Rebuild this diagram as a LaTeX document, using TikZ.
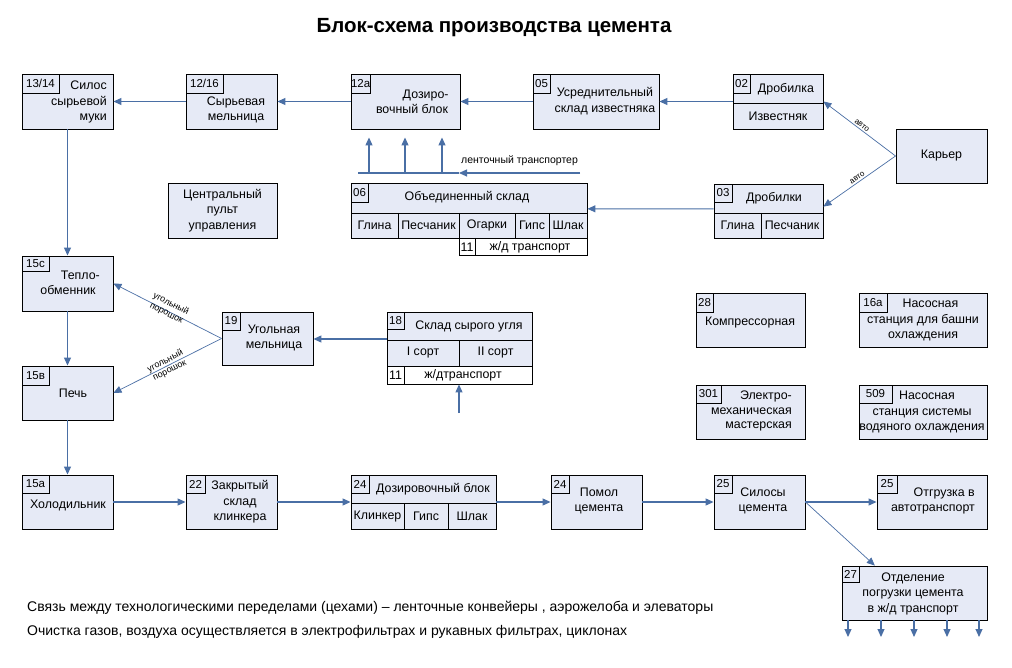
\documentclass[tikz,border=0pt]{standalone}
\usepackage{fontspec}
\setmainfont{Liberation Sans}
\usetikzlibrary{arrows.meta,calc}
\definecolor{boxfill}{HTML}{E6EAF6}
\definecolor{arrc}{HTML}{4A6FA5}
\tikzset{
  bx/.style={draw=black, fill=boxfill, line width=0.9pt, inner sep=0pt},
  wbx/.style={draw=black, fill=white, line width=0.9pt, inner sep=0pt},
  tabs/.style={draw=black, fill=boxfill, line width=0.9pt, inner sep=0pt, anchor=north west, font=\fontsize{11.5}{12}\selectfont},
  divl/.style={draw=black, line width=0.9pt},
  txt/.style={inner sep=0pt, align=center, font=\fontsize{12.4}{15.5}\selectfont},
  arr/.style={draw=arrc, line width=1.1pt, -{Triangle[length=8pt,width=7pt]}},
  arrthin/.style={draw=arrc, line width=0.7pt, -{Triangle[length=8pt,width=7pt]}},
  plain/.style={draw=arrc, line width=1.1pt},
  lab/.style={inner sep=0pt, align=center, font=\fontsize{9}{10}\selectfont},
}
\newcommand\bxn[6][bx]{\node[#1, minimum width={#5-#3}, minimum height={#6-#4}] (#2) at ({(#3+#5)/2},{(#4+#6)/2}) {};}
\newcommand\tabn[5]{\node[tabs, minimum width=#3, minimum height=#4] (#1) at (#2.north west) {#5};}
\begin{document}
\begin{tikzpicture}[x=1pt,y=-1pt]
\fill[white] (0,0) rectangle (1012,668);
\useasboundingbox (0,0) rectangle (1012,668);

\node[inner sep=0pt, font=\bfseries\fontsize{20.5}{24}\selectfont] (title) at (494,28) {Блок-схема производства цемента};

% ---------- row 1
\bxn{b1314}{22}{74}{113}{129}
\tabn{t1314}{b1314}{37}{19}{13/14}
\node[txt, align=right, anchor=east] (x1314) at (107,102) {Силос\\сырьевой\\муки};

\bxn{b1216}{186}{74}{277}{129}
\tabn{t1216}{b1216}{37}{19}{12/16}
\node[txt] (x1216) at (236,110) {Сырьевая\\мельница};

\bxn{b12a}{351}{74}{460}{129}
\tabn{t12a}{b12a}{18}{19}{12a}
\node[txt] (x12a) at (412,102) {\hspace*{2.2em}Дозиро-\\вочный блок};

\bxn{b05}{533}{74}{659}{129}
\tabn{t05}{b05}{17}{19}{05}
\node[txt] (x05) at (605,101) {Усреднительный\\склад известняка};

\bxn{b02}{733}{74}{823}{129}
\tabn{t02}{b02}{17}{19}{02}
\draw[divl] (733,103) -- (823,103);
\node[txt] (x02a) at (786,89) {Дробилка};
\node[txt] (x02b) at (778,116) {Известняк};

\bxn{bkar}{896}{129}{987}{183}
\node[txt] (xkar) at (941.5,156) {Карьер};

% ---------- row 2
\node[txt, draw=black, fill=boxfill, line width=0.9pt, minimum width=109, minimum height=55] (bcpu) at (222.5,210.5) {Центральный\\пульт\\управления};

\bxn{b06}{351}{183}{587}{238}
\bxn[wbx]{b06r}{459}{238}{587}{255}
\tabn{t06}{b06}{17}{19}{06}
\draw[divl] (351,213) -- (587,213);
\draw[divl] (398,213) -- (398,238);
\draw[divl] (459,213) -- (459,238);
\draw[divl] (515,213) -- (515,238);
\draw[divl] (549,213) -- (549,238);
\draw[divl] (475,238) -- (475,255);
\node[txt] (x06) at (467,197) {Объединенный склад};
\node[txt] (x06a) at (374.5,225.5) {Глина};
\node[txt] (x06b) at (428.5,225.5) {Песчаник};
\node[txt] (x06c) at (487,225.5) {Огарки};
\node[txt] (x06d) at (532,225.5) {Гипс};
\node[txt] (x06e) at (568,225.5) {Шлак};
\node[txt] (x06f) at (467,247) {11};
\node[txt] (x06g) at (530,247) {ж/д транспорт};

\bxn{b03}{714}{184}{823}{238}
\tabn{t03}{b03}{18}{18}{03}
\draw[divl] (714,213) -- (823,213);
\draw[divl] (761,213) -- (761,238);
\node[txt] (x03) at (774,198) {Дробилки};
\node[txt] (x03a) at (737.5,225.5) {Глина};
\node[txt] (x03b) at (792,225.5) {Песчаник};

% conveyor
\coordinate (ltr) at (580,173);
\coordinate (ltm) at (459,173);
\coordinate (ltl) at (358,173);
\coordinate (lt1) at (369,173);
\coordinate (lt2) at (405,173);
\coordinate (lt3) at (442,173);
\draw[arr] (ltr) -- (ltm);
\draw[plain] (ltm) -- (ltl);
\draw[arr, shorten >=8pt] (lt1) -- (lt1 |- b12a.south);
\draw[arr, shorten >=8pt] (lt2) -- (lt2 |- b12a.south);
\draw[arr, shorten >=8pt] (lt3) -- (lt3 |- b12a.south);
\node[inner sep=0pt, anchor=west, font=\fontsize{10.5}{12}\selectfont] (ltlab) at (461,161) {ленточный транспортер};

% ---------- row 3
\bxn{b15c}{22}{256}{113}{311}
\tabn{t15c}{b15c}{27}{15}{15с}
\node[txt] (x15c) at (68,283) {\hspace*{2em}Тепло-\\обменник};

\bxn{b15v}{22}{366}{113}{420}
\tabn{t15v}{b15v}{27}{19}{15в}
\node[txt] (x15v) at (73,393) {Печь};

\bxn{b19}{222}{312}{313}{365}
\tabn{t19}{b19}{18}{18}{19}
\node[txt] (x19) at (274,338) {Угольная\\мельница};

\bxn{b18}{387}{312}{532}{366}
\bxn[wbx]{b18r}{387}{366}{532}{384}
\tabn{t18}{b18}{17}{17}{18}
\draw[divl] (387,340) -- (532,340);
\draw[divl] (459,340) -- (459,366);
\draw[divl] (404,366) -- (404,384);
\node[txt] (x18) at (469,326) {Склад сырого угля};
\node[txt] (x18a) at (423,353) {I сорт};
\node[txt] (x18b) at (495.5,353) {II сорт};
\node[txt] (x18c) at (395.5,375) {11};
\node[txt] (x18d) at (463,375) {ж/дтранспорт};
\coordinate (c18in) at (459,413);

\bxn{b28}{696}{293}{805}{347}
\tabn{t28}{b28}{17}{19}{28}
\node[txt] (x28) at (750,323) {Компрессорная};

\bxn{b16a}{859}{293}{987}{347}
\tabn{t16a}{b16a}{28}{19}{16а}
\node[txt] (x16a) at (923,320) {\hspace*{1.2em}Насосная\\станция для башни\\охлаждения};

\bxn{b301}{696}{385}{805}{439}
\tabn{t301}{b301}{25}{18}{301}
\node[txt, align=right, anchor=east, font=\fontsize{12.4}{14.5}\selectfont] (x301) at (792,411) {Электро-\\механическая\\мастерская};

\bxn{b509}{859}{385}{987}{439}
\tabn{t509}{b509}{33}{18}{509}
\node[txt] (x509) at (922,412) {\hspace*{0.8em}Насосная\\станция системы\\водяного охлаждения};

% ---------- row 4
\bxn{b15a}{22}{475}{113}{529}
\tabn{t15a}{b15a}{27}{18}{15а}
\node[txt] (x15a) at (68,505) {Холодильник};

\bxn{b22}{186}{475}{277}{529}
\tabn{t22}{b22}{19}{18}{22}
\node[txt] (x22) at (240,502) {Закрытый\\склад\\клинкера};

\bxn{b24d}{351}{475}{496}{529}
\tabn{t24d}{b24d}{18}{18}{24}
\draw[divl] (351,503) -- (496,503);
\draw[divl] (404,503) -- (404,529);
\draw[divl] (448,503) -- (448,529);
\node[txt] (x24d) at (433,489) {Дозировочный блок};
\node[txt] (x24a) at (377.5,516.5) {Клинкер};
\node[txt] (x24b) at (426,516.5) {Гипс};
\node[txt] (x24c) at (472,516.5) {Шлак};

\bxn{b24p}{551}{475}{642}{529}
\tabn{t24p}{b24p}{18}{18}{24}
\node[txt] (x24p) at (599,501) {Помол\\цемента};

\bxn{b25s}{714}{475}{805}{529}
\tabn{t25s}{b25s}{18}{18}{25}
\node[txt] (x25s) at (763,501) {Силосы\\цемента};

\bxn{b25o}{877}{475}{987}{529}
\tabn{t25o}{b25o}{20}{18}{25}
\node[txt, align=right, anchor=east] (x25o) at (975,501) {Отгрузка в\\автотранспорт};

\bxn{b27}{842}{566}{987}{620}
\tabn{t27}{b27}{17}{16}{27}
\node[txt] (x27) at (913,593.5) {Отделение\\погрузки цемента\\в ж/д транспорт};

% ---------- connectors
\draw[arr] (b1216.west) -- (b1314.east);
\draw[arr] (b12a.west) -- (b1216.east);
\draw[arr] (b05.west) -- (b12a.east);
\draw[arr] (b02.west) -- (b05.east);
\draw[arrthin] (bkar.west) -- node[sloped, above=1.5pt, lab, font=\fontsize{8}{9}\selectfont] (la1) {авто} (b02.east);
\draw[arrthin] (bkar.west) -- node[sloped, above=1.5pt, lab, font=\fontsize{8}{9}\selectfont] (la2) {авто} ($(b03.north east)!0.42!(b03.south east)$);
\draw[arr] ($(b03.north west)!0.46!(b03.south west)$) -- ($(b06.north east)!0.47!(b06.south east)$);
\draw[arr] (b1314.south) -- (b15c.north);
\draw[arr] (b15c.south) -- (b15v.north);
\draw[arr] (b15v.south) -- (b15a.north);
\draw[arrthin] (b19.west) -- node[sloped, lab, above=-7pt] (lu1) {угольный\\порошок} (b15c.east);
\draw[arrthin] (b19.west) -- node[sloped, lab] (lu2) {угольный\\порошок} (b15v.east);
\draw[arr] (b18.west) -- (b18.west -| b19.east);
\draw[arr] (c18in) -- (c18in |- b18r.south);
\draw[arr] (b15a.east) -- (b22.west);
\draw[arr] (b22.east) -- (b24d.west);
\draw[arr] (b24d.east) -- (b24p.west);
\draw[arr] (b24p.east) -- (b25s.west);
\draw[arr] (b25s.east) -- (b25o.west);
\draw[arrthin] (b25s.east) -- ($(b27.north west)!0.228!(b27.north east)$);
\foreach \x [count=\i] in {848,881,914,947,979} {
  \coordinate (d\i) at (\x,637);
  \draw[arr] (d\i |- b27.south) -- (d\i);
}

% ---------- notes
\node[inner sep=0pt, anchor=west, font=\fontsize{14}{16}\selectfont] (note1) at (27,608) {Связь между технологическими переделами (цехами) – ленточные конвейеры , аэрожелоба и элеваторы};
\node[inner sep=0pt, anchor=west, font=\fontsize{14}{16}\selectfont] (note2) at (27,632) {Очистка газов, воздуха осуществляется в электрофильтрах и рукавных фильтрах, циклонах};
\end{tikzpicture}
\end{document}
